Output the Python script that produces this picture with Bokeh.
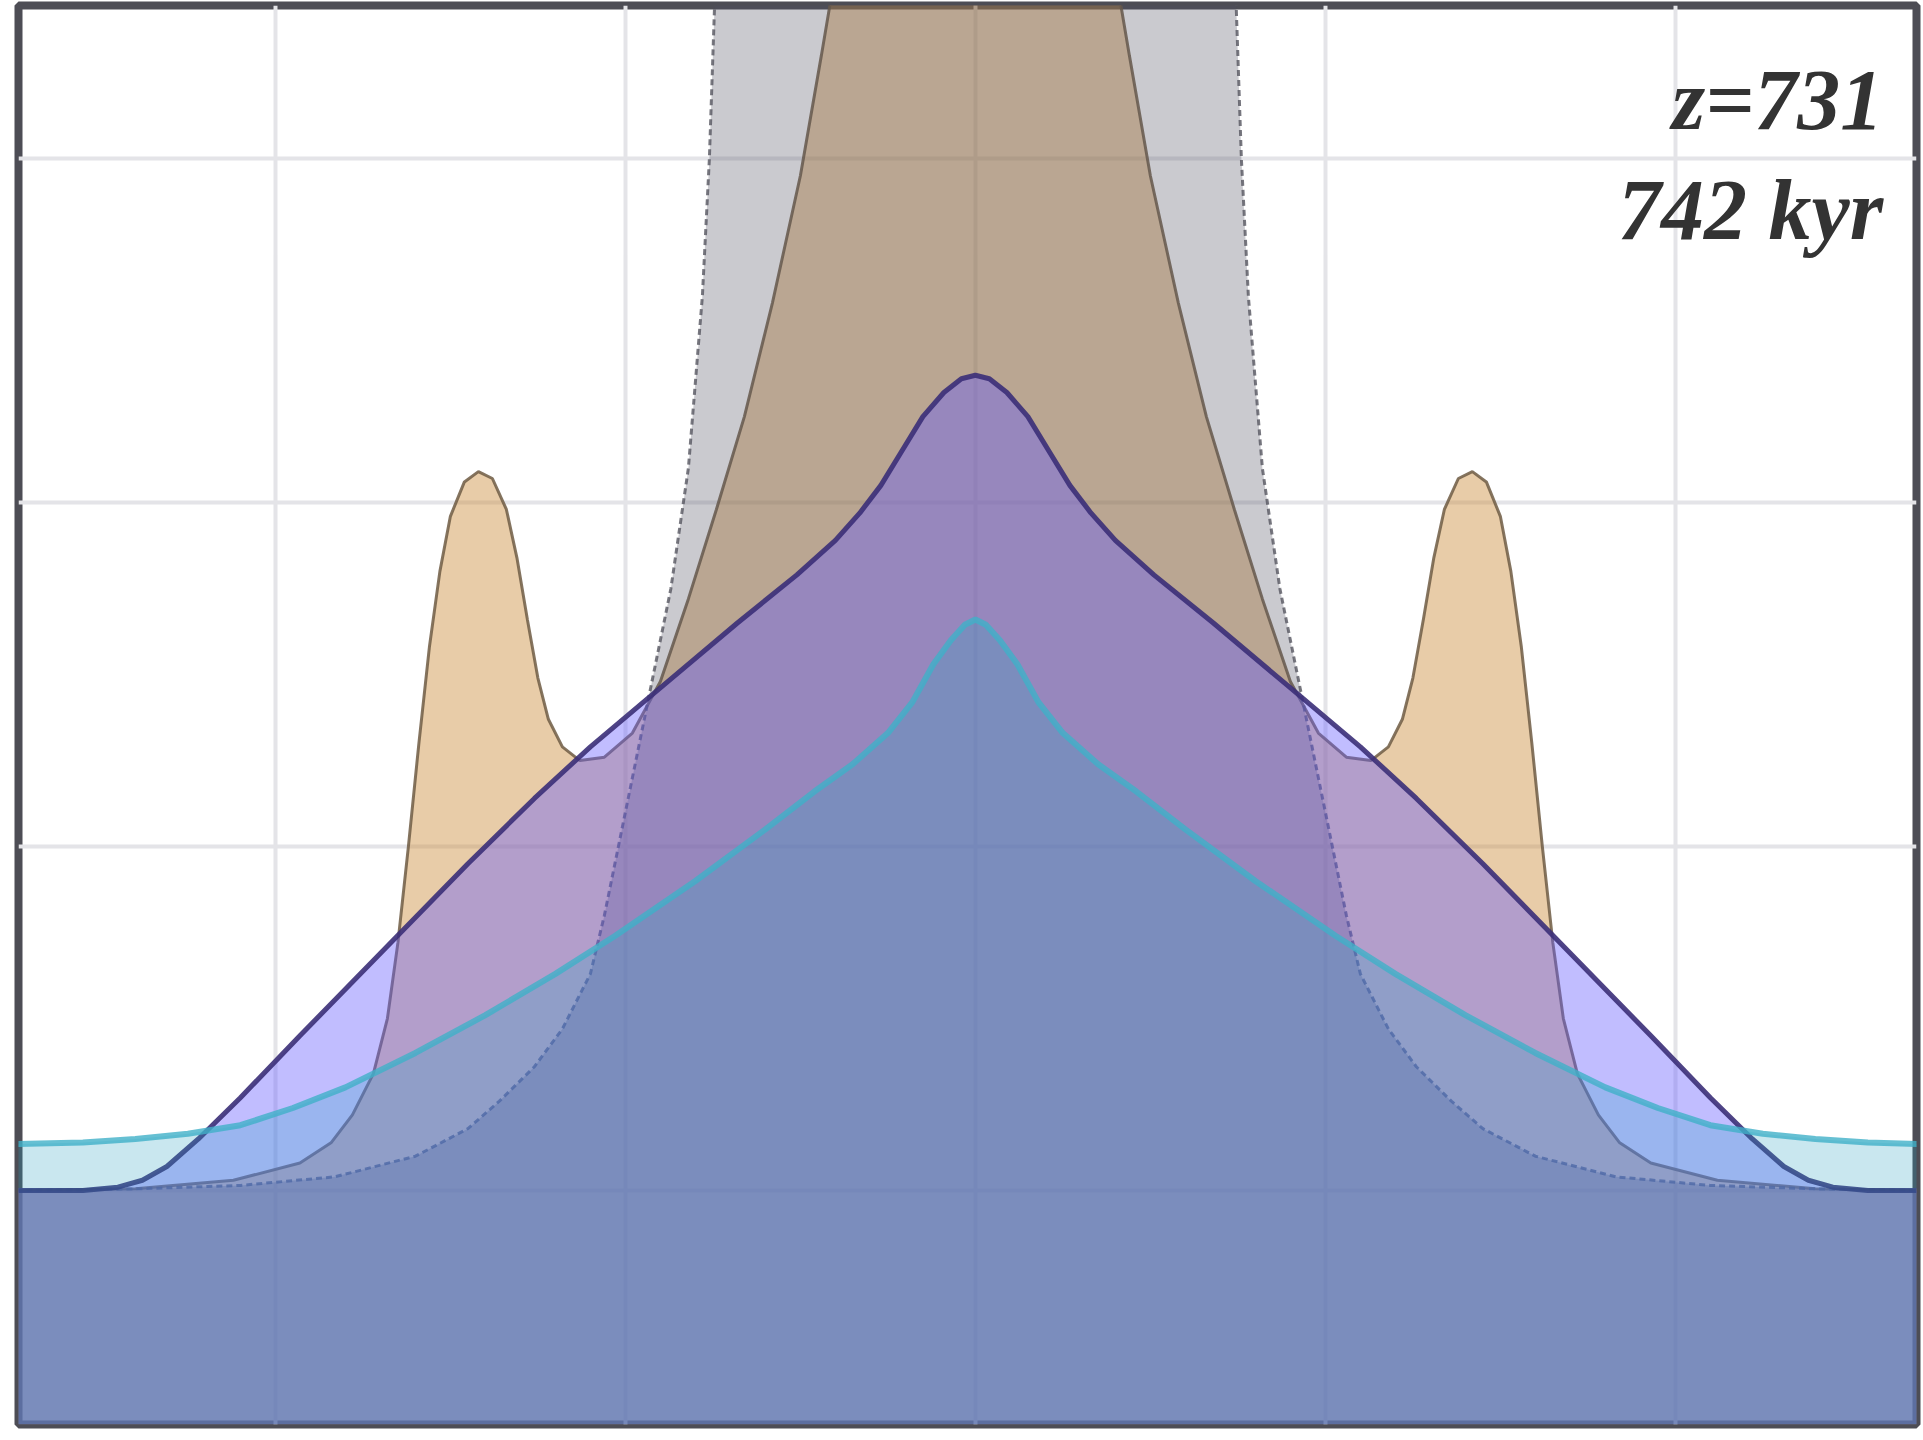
from bokeh.plotting import figure
from bokeh.models import Range1d, FixedTicker, Label
from bokeh.embed import file_html
from bokeh.resources import INLINE

# ---- data ----
# x: position in grid units (grid lines at integers), values: profile height (baseline = 0)
grey_x = [-2.74, -2.40, -2.10, -1.83, -1.60, -1.45, -1.36, -1.26, -1.18, -1.10, -1.06, -1.02,
          -0.98, -0.93, -0.87, -0.82, -0.78, -0.76, -0.745, -0.72, -0.66, -0.55, -0.40, -0.20, 0.00,
          0.20, 0.40, 0.55, 0.66, 0.72, 0.745, 0.76, 0.78, 0.82, 0.87, 0.93, 0.98,
          1.02, 1.06, 1.10, 1.18, 1.26, 1.36, 1.45, 1.60, 1.83, 2.10, 2.40, 2.70]
grey_y = [0.0, 0.005, 0.015, 0.04, 0.10, 0.18, 0.26, 0.36, 0.47, 0.63, 0.80, 1.00,
          1.20, 1.45, 1.75, 2.10, 2.60, 3.00, 3.45, 4.00, 4.60, 5.30, 5.90, 6.30, 6.40,
          6.30, 5.90, 5.30, 4.60, 4.00, 3.45, 3.00, 2.60, 2.10, 1.75, 1.45, 1.20,
          1.00, 0.80, 0.63, 0.47, 0.36, 0.26, 0.18, 0.10, 0.04, 0.015, 0.005, 0.0]

tan_x = [-2.74, -2.40, -2.12, -1.93, -1.84, -1.78, -1.72, -1.68, -1.65, -1.62, -1.59, -1.56,
         -1.53, -1.50, -1.46, -1.42, -1.38, -1.34, -1.31, -1.28, -1.25, -1.22, -1.18, -1.13,
         -1.06, -0.98, -0.90, -0.82, -0.74, -0.66, -0.58, -0.50, -0.44, -0.39, -0.33, -0.25,
         -0.15, -0.06, 0.00,
         0.06, 0.15, 0.25, 0.33, 0.39, 0.44, 0.50, 0.58, 0.66, 0.74, 0.82, 0.90, 0.98,
         1.06, 1.13, 1.18, 1.22, 1.25, 1.28, 1.31, 1.34, 1.38, 1.42, 1.46, 1.50, 1.53,
         1.56, 1.59, 1.62, 1.65, 1.68, 1.72, 1.78, 1.84, 1.93, 2.12, 2.40, 2.70]
tan_y = [0.0, 0.005, 0.03, 0.08, 0.14, 0.22, 0.34, 0.50, 0.72, 1.00, 1.30, 1.58,
         1.80, 1.96, 2.06, 2.09, 2.07, 1.98, 1.84, 1.66, 1.49, 1.37, 1.29, 1.25,
         1.26, 1.33, 1.48, 1.72, 1.98, 2.25, 2.58, 2.95, 3.30, 3.60, 4.05, 4.60,
         5.10, 5.35, 5.40,
         5.35, 5.10, 4.60, 4.05, 3.60, 3.30, 2.95, 2.58, 2.25, 1.98, 1.72, 1.48, 1.33,
         1.26, 1.25, 1.29, 1.37, 1.49, 1.66, 1.84, 1.98, 2.07, 2.09, 2.06, 1.96, 1.80,
         1.58, 1.30, 1.00, 0.72, 0.50, 0.34, 0.22, 0.14, 0.08, 0.03, 0.005, 0.0]

purple_x = [-2.74, -2.55, -2.45, -2.38, -2.31, -2.22, -2.10, -1.93, -1.69, -1.45, -1.26, -1.10,
            -0.89, -0.68, -0.51, -0.40, -0.33, -0.27, -0.21, -0.15, -0.09, -0.04, 0.00,
            0.04, 0.09, 0.15, 0.21, 0.27, 0.33, 0.40, 0.51, 0.68, 0.89, 1.10, 1.26,
            1.45, 1.69, 1.93, 2.10, 2.22, 2.31, 2.38, 2.45, 2.55, 2.70]
purple_y = [0.0, 0.0, 0.01, 0.03, 0.07, 0.15, 0.27, 0.45, 0.70, 0.95, 1.14, 1.29,
            1.47, 1.65, 1.79, 1.89, 1.97, 2.05, 2.15, 2.25, 2.32, 2.36, 2.37,
            2.36, 2.32, 2.25, 2.15, 2.05, 1.97, 1.89, 1.79, 1.65, 1.47, 1.29, 1.14,
            0.95, 0.70, 0.45, 0.27, 0.15, 0.07, 0.03, 0.01, 0.0, 0.0]

cyan_x = [-2.74, -2.55, -2.40, -2.25, -2.10, -1.95, -1.80, -1.60, -1.40, -1.20, -1.03, -0.80,
          -0.60, -0.46, -0.35, -0.25, -0.18, -0.12, -0.07, -0.03, 0.00,
          0.03, 0.07, 0.12, 0.18, 0.25, 0.35, 0.46, 0.60, 0.80, 1.03, 1.20, 1.40,
          1.60, 1.80, 1.95, 2.10, 2.25, 2.40, 2.55, 2.70]
cyan_y = [0.135, 0.14, 0.15, 0.165, 0.19, 0.24, 0.30, 0.40, 0.51, 0.63, 0.74, 0.90,
          1.05, 1.16, 1.24, 1.33, 1.42, 1.53, 1.60, 1.645, 1.66,
          1.645, 1.60, 1.53, 1.42, 1.33, 1.24, 1.16, 1.05, 0.90, 0.74, 0.63, 0.51,
          0.40, 0.30, 0.24, 0.19, 0.165, 0.15, 0.14, 0.135]

label_lines = ["z=731", "742 kyr"]
label_x = 2.594
label_y = [3.17, 2.85]
x_ticks = [-2, -1, 0, 1, 2]
y_ticks = [0, 1, 2, 3]
X_MIN, X_MAX = -2.734, 2.689
Y_MIN, Y_MAX = -0.680, 3.445

p = figure(width=1923, height=1440, output_backend="svg", toolbar_location=None,
           x_range=Range1d(X_MIN, X_MAX), y_range=Range1d(Y_MIN, Y_MAX),
           min_border_left=18, min_border_right=7, min_border_top=5, min_border_bottom=16)
p.xaxis.visible = False
p.yaxis.visible = False
p.background_fill_color = "white"
p.border_fill_color = "white"
p.outline_line_color = "#4d4d55"
p.outline_line_width = 8
p.xgrid.ticker = FixedTicker(ticks=x_ticks)
p.ygrid.ticker = FixedTicker(ticks=y_ticks)
p.grid.grid_line_color = "#e4e4e8"
p.grid.grid_line_width = 4

# tan
p.varea(x=tan_x, y1=Y_MIN, y2=tan_y, fill_color="#cc8e3e", fill_alpha=0.45)
p.line(tan_x, tan_y, line_color="#6e5c44", line_width=3, line_alpha=0.85)
# grey
p.varea(x=grey_x, y1=Y_MIN, y2=grey_y, fill_color="#4e4e5f", fill_alpha=0.30)
p.line(grey_x, grey_y, line_color="#55555f", line_width=3, line_dash="6 4", line_alpha=0.8)
# purple
p.varea(x=purple_x, y1=Y_MIN, y2=purple_y, fill_color="#645aff", fill_alpha=0.40)
p.line(purple_x, purple_y, line_color="#3b2f78", line_width=5, line_alpha=0.9)
# cyan
p.varea(x=cyan_x, y1=Y_MIN, y2=cyan_y, fill_color="#28a0be", fill_alpha=0.25)
p.line(cyan_x, cyan_y, line_color="#40b0c8", line_width=6, line_alpha=0.8)

for t, ly in zip(label_lines, label_y):
    p.add_layout(Label(x=label_x, y=ly, text=t, text_align="right", text_baseline="alphabetic",
                       text_font="Liberation Serif", text_font_style="bold italic",
                       text_font_size="86px", text_color="#333333"))

open("out.html", "w").write(file_html(p, INLINE))
